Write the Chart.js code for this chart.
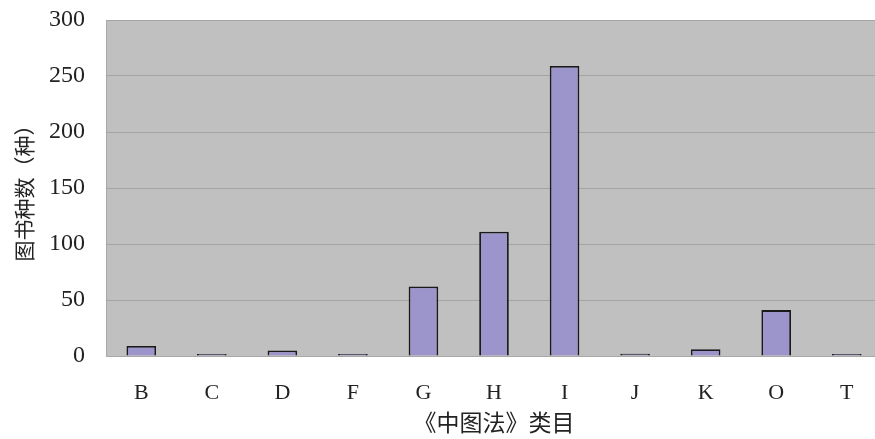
<!DOCTYPE html>
<html><head><meta charset="utf-8">
<script src="https://cdn.jsdelivr.net/npm/chart.js@4/dist/chart.umd.min.js"></script>
<style>
html,body{margin:0;padding:0;background:#fff;overflow:hidden;}
#wrap{position:relative;width:890px;height:439px;}
</style></head>
<body><div id="wrap"><canvas id="c" width="890" height="439"></canvas></div>
<script>
const categories = ['B','C','D','F','G','H','I','J','K','O','T'];
const counts = [9, 1, 5, 1, 62, 111, 259, 2, 6, 41, 1];
const yTicks = [0, 50, 100, 150, 200, 250, 300];
const xTitle = '《中图法》类目';
const yTitle = '图书种数（种）';

const plotBg = {
  id: 'plotBg',
  beforeDraw(chart) {
    const {ctx, chartArea: a} = chart;
    ctx.save();
    ctx.fillStyle = '#c0c0c0';
    ctx.fillRect(a.left, a.top, a.right - a.left, a.bottom - a.top);
    ctx.restore();
  }
};

new Chart(document.getElementById('c'), {
  type: 'bar',
  data: {
    labels: categories,
    datasets: [{
      data: counts,
      backgroundColor: '#9b95cb',
      borderColor: '#1a1a1a',
      borderWidth: 1.8,
      minBarLength: 2,
      barPercentage: 0.42,
      categoryPercentage: 1.0
    }]
  },
  options: {
    responsive: false,
    animation: false,
    devicePixelRatio: 1,
    layout: { padding: { top: 20, right: 8, bottom: 0, left: 0 } },
    plugins: { legend: { display: false }, tooltip: { enabled: false } },
    scales: {
      x: {
        grid: { display: false, drawTicks: false },
        border: { display: true, color: '#a8a8a8' },
        ticks: { padding: 24, color: '#222', font: { family: 'Liberation Serif', size: 22 } },
        title: { display: true, text: xTitle, color: '#222', padding: { top: 0, bottom: 3 },
                 font: { family: 'Noto Sans CJK SC', size: 23 } },
        afterFit(s) { s.height = 83; s.paddingLeft = 0; s.paddingRight = 0; }
      },
      y: {
        min: 0, max: 300,
        afterBuildTicks(s) { s.ticks = yTicks.map(v => ({ value: v })); },
        grid: { color: '#a4a4a4', lineWidth: 1, drawTicks: false },
        border: { display: true, color: '#a8a8a8' },
        ticks: { padding: 21, color: '#222', font: { family: 'Liberation Serif', size: 24 } },
        title: { display: true, text: yTitle, color: '#222', padding: { top: 11, bottom: 0 },
                 font: { family: 'Noto Sans CJK SC', size: 21 } },
        afterFit(s) { s.width = 106; s.paddingTop = 0; s.paddingBottom = 0; }
      }
    }
  },
  plugins: [plotBg]
});
</script></body></html>
